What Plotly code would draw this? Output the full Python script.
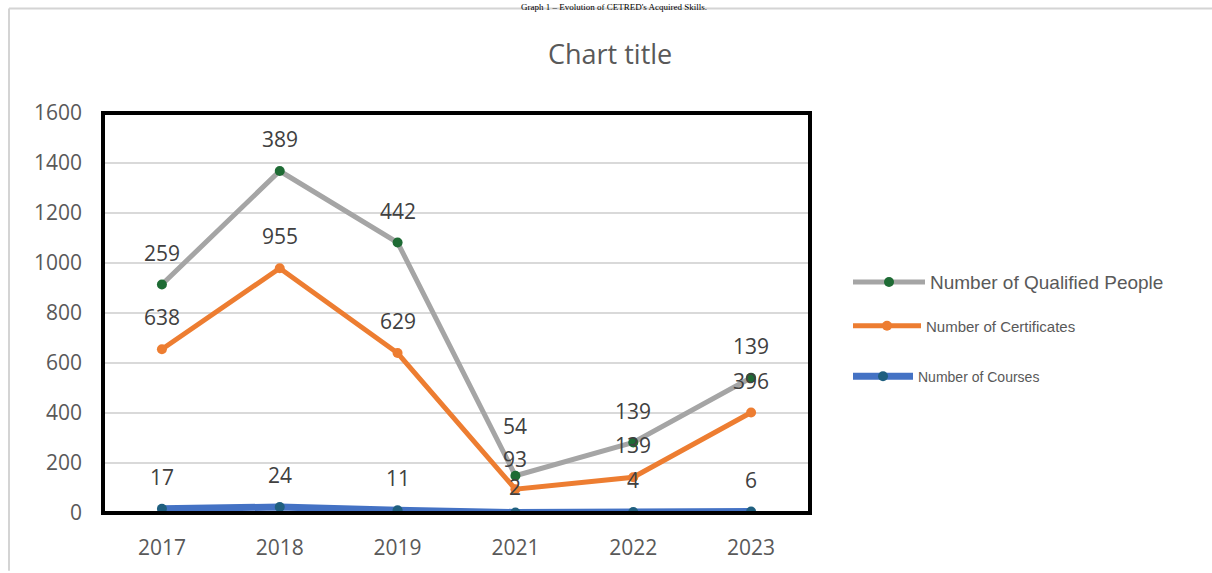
import numpy as np
import plotly.graph_objects as go

years = ["2017", "2018", "2019", "2021", "2022", "2023"]
courses = [17, 24, 11, 2, 4, 6]
certificates = [638, 955, 629, 93, 139, 396]
qualified = [259, 389, 442, 54, 139, 139]

names = ["Number of Qualified People", "Number of Certificates", "Number of Courses"]
y_ticks = [0, 200, 400, 600, 800, 1000, 1200, 1400, 1600]

# stacked line chart (as in the original Excel chart)
s_courses = np.array(courses)
s_cert = s_courses + np.array(certificates)
s_qual = s_cert + np.array(qualified)

W, H = 1212, 573
L, R, T, B = 103, 810, 113, 515
pw, ph = R - L, B - T

def px_x(x):
    return (x - L) / pw

def px_y(y):
    return (B - y) / ph

fig = go.Figure()

fig.add_trace(go.Scatter(
    x=years, y=s_qual, name=names[0], mode="lines+markers",
    line=dict(color="#A5A5A5", width=5),
    marker=dict(color="#1E6B34", size=10),
    legend="legend",
))
fig.add_trace(go.Scatter(
    x=years, y=s_cert, name=names[1], mode="lines+markers",
    line=dict(color="#ED7D31", width=5),
    marker=dict(color="#ED7D31", size=10),
    legend="legend2",
))
fig.add_trace(go.Scatter(
    x=years, y=s_courses, name=names[2], mode="lines+markers",
    line=dict(color="#4472C4", width=7),
    marker=dict(color="#1F5F7F", size=10),
    legend="legend3",
))

label_font = dict(family="Open Sans", size=21, color="#404040")
# label offsets (px above the point); the crowded 2021 labels are spread apart
shifts = {"q": [32, 32, 32, 50, 32, 32], "c": [32, 32, 32, 30, 32, 32], "k": [32, 32, 32, 26, 32, 32]}
annotations = []
for key, vals, stacked in (("q", qualified, s_qual), ("c", certificates, s_cert), ("k", courses, s_courses)):
    for i, (v, sv) in enumerate(zip(vals, stacked)):
        annotations.append(dict(
            x=i, y=float(sv), xref="x", yref="y", text=str(v),
            showarrow=False, yshift=shifts[key][i], font=label_font,
        ))

annotations.append(dict(
    x=px_x(610), y=px_y(53), xref="paper", yref="paper", text="Chart title",
    showarrow=False, xanchor="center", yanchor="middle",
    font=dict(family="Open Sans", size=27, color="#595959"),
))

annotations.append(dict(
    x=px_x(614), y=px_y(0), xref="paper", yref="paper",
    text="Graph 1 – Evolution of CETRED's Acquired Skills.",
    showarrow=False, xanchor="center", yanchor="top", borderpad=0,
    font=dict(family="Liberation Serif", size=9, color="#000000"),
))

shapes = [
    dict(type="rect", xref="paper", yref="paper", x0=0, x1=1, y0=0, y1=1,
         line=dict(color="#000000", width=4), layer="above"),
    dict(type="line", xref="paper", yref="paper", x0=px_x(9), x1=px_x(9),
         y0=px_y(8), y1=px_y(573), line=dict(color="#D4D4D4", width=2)),
    dict(type="line", xref="paper", yref="paper", x0=px_x(9), x1=px_x(1212),
         y0=px_y(8), y1=px_y(8), line=dict(color="#D4D4D4", width=2)),
]

fig.update_layout(
    width=W, height=H,
    margin=dict(l=L, r=W - R, t=T, b=H - B),
    paper_bgcolor="white", plot_bgcolor="white",
    showlegend=True,
    annotations=annotations,
    shapes=shapes,
    legend=dict(x=px_x(848), y=px_y(283), xanchor="left", yanchor="middle",
                font=dict(family="Liberation Sans", size=19, color="#595959"),
                bgcolor="rgba(0,0,0,0)", itemwidth=72),
    legend2=dict(x=px_x(848), y=px_y(327), xanchor="left", yanchor="middle",
                 font=dict(family="Liberation Sans", size=15, color="#595959"),
                 bgcolor="rgba(0,0,0,0)", itemwidth=68),
    legend3=dict(x=px_x(848), y=px_y(378), xanchor="left", yanchor="middle",
                 font=dict(family="Liberation Sans", size=14, color="#595959"),
                 bgcolor="rgba(0,0,0,0)", itemwidth=60),
    xaxis=dict(
        type="category", categoryorder="array", categoryarray=years,
        range=[-0.5, 5.5], showgrid=False, zeroline=False, showline=False,
        ticks="", ticklabelstandoff=20,
        tickfont=dict(family="Open Sans", size=21, color="#595959"),
    ),
    yaxis=dict(
        range=[0, 1600], tickvals=y_ticks, ticktext=[str(v) for v in y_ticks],
        showgrid=True, gridcolor="#D9D9D9", gridwidth=1.5,
        zeroline=False, showline=False, ticks="", ticklabelstandoff=20,
        tickfont=dict(family="Open Sans", size=21, color="#595959"),
    ),
)

fig.write_html("out.html")
